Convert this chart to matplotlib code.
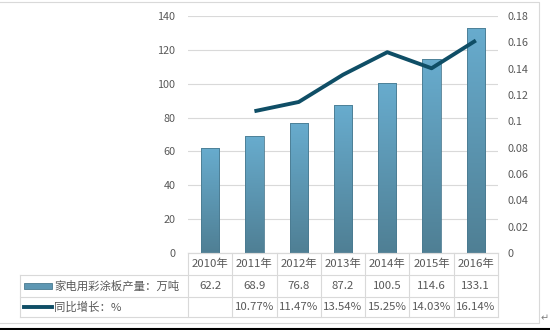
import numpy as np
import matplotlib.pyplot as plt
from matplotlib.lines import Line2D
from matplotlib.patches import Rectangle
from matplotlib.colors import LinearSegmentedColormap

plt.rcParams['font.family'] = ['Noto Sans CJK SC', 'DejaVu Sans']

# 数据
years = ['2010年', '2011年', '2012年', '2013年', '2014年', '2015年', '2016年']
output = [62.2, 68.9, 76.8, 87.2, 100.5, 114.6, 133.1]
growth = [None, 0.1077, 0.1147, 0.1354, 0.1525, 0.1403, 0.1614]
output_labels = ['62.2', '68.9', '76.8', '87.2', '100.5', '114.6', '133.1']
growth_labels = ['', '10.77%', '11.47%', '13.54%', '15.25%', '14.03%', '16.14%']
bar_name = '家电用彩涂板产量：万吨'
line_name = '同比增长：%'

W, H = 550, 330
TXT = '#595959'
GRID = '#D9D9D9'
LINE_C = '#0F4E66'
FS_TAB = 8.2

fig = plt.figure(figsize=(W / 100, H / 100), dpi=100)

def fx(px):
    return px / W

def fy(py):
    return 1 - py / H

ax_l, ax_r, ax_t, ax_b = 188, 498, 16, 253
ax = fig.add_axes([fx(ax_l), fy(ax_b), fx(ax_r - ax_l), (ax_b - ax_t) / H])
ax2 = ax.twinx()

x = np.arange(len(years))
bars = ax.bar(x, output, width=0.41, color='none', edgecolor='#4A7A90', linewidth=0.6, zorder=3)

# 渐变填充
cmap = LinearSegmentedColormap.from_list('g', ['#4F7F94', '#68ACCE'])
grad = np.linspace(0, 1, 256).reshape(-1, 1)
for b in bars:
    bx, by = b.get_x(), b.get_y()
    bw, bh = b.get_width(), b.get_height()
    im = ax.imshow(grad, cmap=cmap, origin='lower', aspect='auto',
                   extent=[bx, bx + bw, by, by + bh], zorder=2)
    im.set_clip_path(b)

ax.set_xlim(-0.5, len(years) - 0.5)
ax.set_ylim(0, 140)
ax.set_yticks(range(0, 141, 20))
ax.set_xticks([])
ax.yaxis.grid(True, color=GRID, linewidth=0.8)
ax.set_axisbelow(True)
ax.tick_params(axis='y', length=0, colors=TXT, labelsize=7.8, pad=9)

gx = [i for i, g in enumerate(growth) if g is not None]
gy = [g for g in growth if g is not None]
ax2.plot(gx, gy, color=LINE_C, linewidth=2.8, solid_capstyle='butt', zorder=4)
ax2.set_ylim(0, 0.18)
ax2.set_yticks(np.arange(0, 0.181, 0.02))
ax2.set_yticklabels(['0', '0.02', '0.04', '0.06', '0.08', '0.1', '0.12', '0.14', '0.16', '0.18'])
ax2.tick_params(axis='y', length=0, colors=TXT, labelsize=7.8, pad=7)

for a in (ax, ax2):
    for s in a.spines.values():
        s.set_visible(False)
ax.spines['bottom'].set_visible(True)
ax.spines['bottom'].set_color(GRID)

# 数据表
col_w = (ax_r - ax_l) / len(years)
row_y = [253, 275, 297, 317]
leg_l = 20

def hline(x0, x1, y):
    fig.add_artist(Line2D([fx(x0), fx(x1)], [fy(y), fy(y)], color=GRID, linewidth=0.8))

def vline(xp, y0, y1):
    fig.add_artist(Line2D([fx(xp), fx(xp)], [fy(y0), fy(y1)], color=GRID, linewidth=0.8))

hline(ax_l, ax_r, row_y[0])
for y in row_y[1:]:
    hline(leg_l, ax_r, y)
for i in range(len(years) + 1):
    vline(ax_l + i * col_w, row_y[0], row_y[3])
vline(leg_l, row_y[1], row_y[3])

for i in range(len(years)):
    cx = ax_l + (i + 0.5) * col_w
    fig.text(fx(cx), fy((row_y[0] + row_y[1]) / 2), years[i], ha='center', va='center',
             fontsize=FS_TAB, color=TXT)
    fig.text(fx(cx), fy((row_y[1] + row_y[2]) / 2), output_labels[i], ha='center', va='center',
             fontsize=FS_TAB, color=TXT)
    fig.text(fx(cx), fy((row_y[2] + row_y[3]) / 2), growth_labels[i], ha='center', va='center',
             fontsize=FS_TAB, color=TXT)

# 图例
r1 = (row_y[1] + row_y[2]) / 2
r2 = (row_y[2] + row_y[3]) / 2
fig.add_artist(Rectangle((fx(24), fy(r1 + 3)), fx(28), 6 / H, facecolor='#5E97B3',
                         edgecolor='#4A7A90', linewidth=0.6))
fig.add_artist(Line2D([fx(24), fx(52)], [fy(r2), fy(r2)], color=LINE_C, linewidth=2.8))
fig.text(fx(54), fy(r1), bar_name, ha='left', va='center', fontsize=FS_TAB, color=TXT)
fig.text(fx(54), fy(r2), line_name, ha='left', va='center', fontsize=FS_TAB, color=TXT)

# 外框
fig.add_artist(Line2D([0, fx(539), fx(539), 0], [fy(2), fy(2), fy(323), fy(323)],
                      color=GRID, linewidth=0.8))
fig.add_artist(Line2D([0, 1], [fy(329), fy(329)], color='black', linewidth=1.5))
fig.text(fx(541), fy(318), '↵', fontsize=7, color='#808080', ha='left', va='center',
         family='DejaVu Sans')

fig.savefig('out.png', dpi=100)
